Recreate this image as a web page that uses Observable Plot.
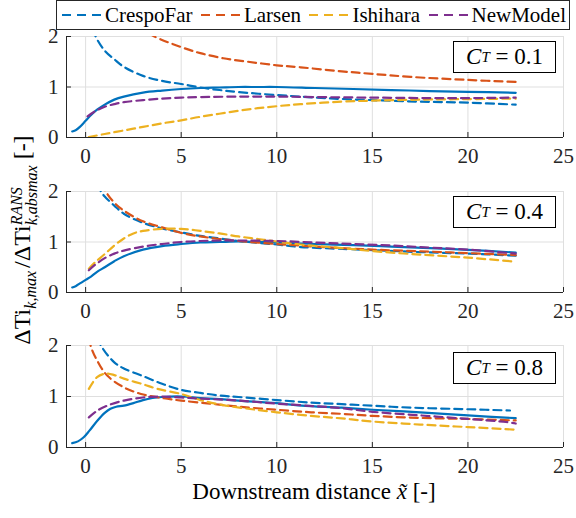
<!DOCTYPE html>
<html><head><meta charset="utf-8">
<script src="https://cdn.jsdelivr.net/npm/d3@7"></script>
<script src="https://cdn.jsdelivr.net/npm/@observablehq/plot@0.6"></script>
<style>
body{margin:0;background:#fff;color:#262626;font-family:'Liberation Serif',serif;}
#wrap{position:relative;width:576px;height:518px;overflow:hidden;background:#fff;}
.panel{position:absolute;left:0;}
.legend{position:absolute;left:56px;top:0;width:514px;height:30px;box-sizing:border-box;border:1px solid #262626;background:#fff;z-index:5;display:flex;align-items:center;justify-content:space-between;padding:0 3px 0 5px;font-size:21px;color:#000;}
.legend .item{display:flex;align-items:center;gap:3px;white-space:nowrap;}
.ct{position:absolute;right:20px;width:103px;height:32px;box-sizing:border-box;border:1.4px solid #000;background:#fff;display:flex;align-items:center;justify-content:center;font-size:23px;color:#000;white-space:nowrap;z-index:3;}
.ct sub{font-size:15px;vertical-align:-4px;line-height:0;}
.ylab{position:absolute;left:26px;top:240px;transform:translate(-50%,-50%) rotate(-90deg);white-space:nowrap;font-size:24px;color:#000;line-height:30px;}
.ylab .sb{display:inline-block;font-size:16px;font-style:italic;vertical-align:-6px;margin-right:3px;}
.ylab .ss{display:inline-block;font-size:16px;font-style:italic;line-height:15px;vertical-align:-7px;margin-right:6px;}
.ylab .ss span{display:block;}
.xlab{position:absolute;left:314px;top:479px;transform:translateX(-50%);white-space:nowrap;font-size:23px;color:#000;}
</style></head>
<body><div id="wrap">
<div class="xlab" style="font-family:'Liberation Serif'">Downstream distance <i>x̃</i> [-]</div>
<div class="ylab" style="font-family:'Liberation Serif'">ΔTi<span class="sb">k,max</span>/ΔTi<span class="ss"><span>RANS</span><span>k,absmax</span></span>[-]</div>
</div>
<script>
// ---- data ----
const seriesNames = ["CrespoFar","Larsen","Ishihara","NewModel"];
const seriesColors = ["#0072BD","#D95319","#EDB120","#7E2F8E"];
const ctLabels = ["0.1","0.4","0.8"];
const xTicks = [0,5,10,15,20,25];
const yTicks = [0,1,2];

// C_T = 0.1
const rans1 = [[-0.7,0.12],[-0.5,0.15],[-0.3,0.21],[0,0.33],[0.3,0.45],[0.6,0.55],[1,0.65],[1.5,0.75],[2,0.81],[3,0.89],[4,0.93],[5,0.96],[6,0.98],[7,0.99],[8,1.0],[9,1.0],[10,1.0],[12,0.98],[14,0.96],[16,0.94],[18,0.92],[20,0.905],[22.5,0.885]];
const crespo1 = [[0.2,2.4],[0.5,2.02],[1,1.72],[1.5,1.55],[2,1.40],[3,1.22],[4,1.12],[5,1.06],[6,0.99],[7,0.94],[8,0.90],[10,0.84],[11.25,0.81],[13,0.77],[15,0.74],[17.5,0.71],[20,0.69],[22.5,0.65]];
const larsen1 = [[1,3.0],[2,2.5],[3,2.15],[3.6,2.0],[5,1.79],[6,1.67],[7.2,1.57],[8.5,1.5],[10,1.43],[11.25,1.39],[13.4,1.31],[15,1.26],[17,1.2],[20,1.14],[22.5,1.10]];
const ishihara1 = [[0.17,0.01],[1,0.07],[2,0.14],[3,0.21],[4,0.28],[5,0.34],[6,0.41],[7,0.47],[8,0.53],[9,0.58],[10,0.62],[11.25,0.66],[13.4,0.71],[15,0.73],[17.5,0.75],[20,0.76],[22.5,0.77]];
const newmodel1 = [[0.1,0.42],[0.5,0.52],[1,0.61],[1.5,0.66],[2,0.70],[3,0.74],[4,0.77],[5,0.79],[6,0.80],[8,0.81],[10,0.81],[12,0.80],[15,0.79],[18,0.78],[20,0.78],[22.5,0.79]];

// C_T = 0.4
const rans2 = [[-0.7,0.1],[-0.5,0.13],[-0.3,0.18],[0,0.25],[0.3,0.32],[0.6,0.41],[1,0.5],[1.5,0.62],[2,0.72],[3,0.85],[4,0.92],[5,0.96],[6,0.99],[7,1.0],[8,1.01],[9,1.0],[10,0.99],[12,0.96],[14,0.94],[16,0.91],[18,0.88],[20,0.845],[22.5,0.79]];
const crespo2 = [[0.4,2.4],[0.8,2.0],[1,1.9],[1.5,1.72],[2,1.56],[3,1.38],[4,1.27],[5,1.19],[6,1.12],[7,1.07],[8,1.02],[10,0.95],[11.25,0.90],[13,0.87],[15,0.84],[17.5,0.80],[20,0.77],[22.5,0.73]];
const larsen2 = [[0.5,2.4],[1.05,2.0],[1.5,1.78],[2,1.62],[3,1.41],[4,1.29],[5,1.18],[6,1.11],[7,1.06],[8,1.02],[10,0.96],[12,0.91],[15,0.85],[18,0.81],[20,0.78],[22.5,0.74]];
const ishihara2 = [[0.17,0.47],[0.5,0.6],[1,0.76],[1.5,0.93],[2,1.07],[2.5,1.17],[3,1.22],[4,1.26],[5,1.26],[6,1.22],[7,1.17],[8,1.11],[9,1.06],[10,1.01],[11.25,0.95],[13.4,0.88],[15,0.82],[17.5,0.75],[20,0.69],[22.5,0.61]];
const newmodel2 = [[0.17,0.44],[0.5,0.55],[1,0.68],[1.5,0.77],[2,0.83],[3,0.91],[4,0.96],[5,1.0],[6,1.02],[7,1.03],[8,1.03],[10,1.02],[12,0.99],[14,0.96],[16,0.93],[18,0.89],[20,0.85],[22.5,0.77]];

// C_T = 0.8
const rans3 = [[-0.7,0.085],[-0.4,0.12],[-0.1,0.2],[0.2,0.33],[0.6,0.52],[1,0.68],[1.3,0.76],[1.6,0.8],[2,0.82],[2.5,0.87],[3,0.93],[3.5,0.97],[4,0.99],[5,1.0],[6,0.97],[7,0.95],[8,0.92],[10,0.87],[11.3,0.82],[13.4,0.78],[15,0.74],[17.5,0.69],[20,0.63],[22.5,0.575]];
const crespo3 = [[0.4,2.4],[0.8,2.0],[1.5,1.67],[2,1.55],[3,1.40],[4,1.25],[5,1.13],[6,1.07],[7,1.02],[8,0.99],[10,0.93],[11.8,0.88],[13.4,0.85],[15,0.82],[16.5,0.79],[18,0.77],[20,0.75],[22.2,0.725]];
const larsen3 = [[0.1,2.4],[0.26,2.0],[0.61,1.7],[1.13,1.41],[2,1.18],[2.9,1.05],[4,0.97],[5,0.92],[6.5,0.86],[8,0.80],[10,0.74],[11.8,0.69],[13.4,0.66],[15,0.62],[17.5,0.58],[20,0.56],[22.5,0.53]];
const ishihara3 = [[0.17,1.15],[0.6,1.38],[1.05,1.45],[1.5,1.42],[2,1.35],[3,1.24],[3.75,1.15],[5,1.05],[6,0.93],[7.2,0.83],[8.5,0.76],[10,0.69],[11.8,0.62],[13.4,0.57],[15,0.51],[17.5,0.45],[20,0.40],[22.5,0.35]];
const newmodel3 = [[0.17,0.59],[0.6,0.72],[1.13,0.82],[2,0.92],[3,0.98],[4,1.0],[5,0.98],[6,0.96],[8,0.92],[10,0.86],[12,0.81],[13.4,0.77],[15,0.70],[17.5,0.63],[20,0.56],[22,0.50],[22.5,0.47]];

const panels = [
  {rans: rans1, models: [crespo1, larsen1, ishihara1, newmodel1], top: 36, ih: 101},
  {rans: rans2, models: [crespo2, larsen2, ishihara2, newmodel2], top: 191, ih: 101},
  {rans: rans3, models: [crespo3, larsen3, ishihara3, newmodel3], top: 345, ih: 102}
];

// ---- layout ----
const wrap = document.getElementById("wrap");
const W = 576, mL = 66, mR = 13, mT = 12, mB = 32;
const axisColor = "#262626", gridColor = "#dfdfdf";
const serif = "Times New Roman";

panels.forEach((p, i) => {
  const iw = W - mL - mR;
  const marks = [
    Plot.gridX(xTicks, {stroke: gridColor, strokeOpacity: 1}),
    Plot.gridY(yTicks, {stroke: gridColor, strokeOpacity: 1}),
    Plot.line(p.rans, {x: d => d[0], y: d => d[1], stroke: seriesColors[0], strokeWidth: 2.2, curve: "catmull-rom", clip: true})
  ];
  p.models.forEach((m, j) => {
    marks.push(Plot.line(m, {x: d => d[0], y: d => d[1], stroke: seriesColors[j], strokeWidth: 2.2, strokeDasharray: "8,5", curve: "catmull-rom", clip: true}));
  });
  marks.push(
    Plot.ruleX([-1], {stroke: axisColor}),
    Plot.ruleY([0], {stroke: axisColor}),
    Plot.tickX(xTicks, {x: d => d, stroke: axisColor, insetTop: p.ih - 5}),
    Plot.tickY(yTicks, {y: d => d, stroke: axisColor, insetRight: iw - 5}),
    Plot.axisX(xTicks, {tickSize: 0, tickPadding: 11, label: null, fill: "#262626", tickFormat: d => String(d)}),
    Plot.axisY(yTicks, {tickSize: 0, tickPadding: 8, label: null, fill: "#262626", tickFormat: d => String(d)})
  );
  const svg = Plot.plot({
    width: W, height: mT + p.ih + mB,
    marginLeft: mL, marginRight: mR, marginTop: mT, marginBottom: mB,
    x: {domain: [-1, 25]},
    y: {domain: [0, 2]},
    style: {fontFamily: serif, fontSize: "21px", color: "#262626", background: "transparent", overflow: "visible"},
    marks
  });
  svg.classList.add("panel");
  svg.style.top = (p.top - mT) + "px";
  wrap.appendChild(svg);

  const ct = document.createElement("div");
  ct.className = "ct";
  ct.style.top = (p.top + 5 + (i === 2 ? 2 : 0)) + "px";
  ct.style.fontFamily = "'Liberation Serif', serif";
  ct.innerHTML = `<i>C</i><sub><i>T</i></sub>&nbsp;=&nbsp;${ctLabels[i]}`;
  wrap.appendChild(ct);
});

// legend
const leg = document.createElement("div");
leg.className = "legend";
leg.setAttribute("style", "font-family:'Liberation Serif'");
seriesNames.forEach((n, j) => {
  const it = document.createElement("div");
  it.className = "item";
  it.innerHTML = `<svg width="40" height="10"><line x1="0" y1="5" x2="40" y2="5" stroke="${seriesColors[j]}" stroke-width="2.2" stroke-dasharray="9,6"/></svg><span>${n}</span>`;
  leg.appendChild(it);
});
wrap.appendChild(leg);
</script></body></html>
